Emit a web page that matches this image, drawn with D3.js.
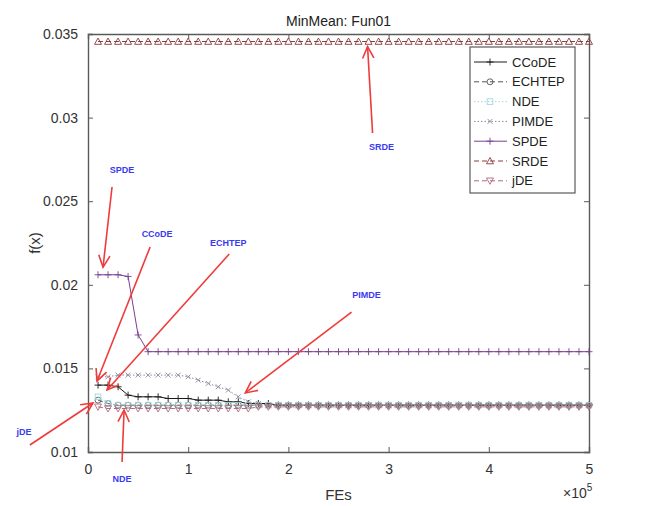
<!DOCTYPE html>
<html>
<head>
<meta charset="utf-8">
<script src="https://cdn.jsdelivr.net/npm/d3@7"></script>
<style>
  body { margin: 0; background: #fff; }
  svg { display: block; font-family: "Liberation Sans", Arial, sans-serif; }
</style>
</head>
<body>
<div id="chart"></div>
<script>
// FEs sample points (every 1e4 evaluations)
const fes = [10000, 20000, 30000, 40000, 50000, 60000, 70000, 80000, 90000, 100000,
  110000, 120000, 130000, 140000, 150000, 160000, 170000, 180000, 190000, 200000,
  210000, 220000, 230000, 240000, 250000, 260000, 270000, 280000, 290000, 300000,
  310000, 320000, 330000, 340000, 350000, 360000, 370000, 380000, 390000, 400000,
  410000, 420000, 430000, 440000, 450000, 460000, 470000, 480000, 490000, 500000];

const ccode = [0.0140, 0.0140, 0.0139, 0.0134, 0.0133, 0.0133, 0.0133, 0.0132, 0.0132, 0.0132,
  0.0131, 0.0131, 0.0131, 0.0130, 0.0130, 0.0129, 0.0129, 0.0129, 0.0128, 0.0128,
  0.0128, 0.0128, 0.0128, 0.0128, 0.0128, 0.0128, 0.0128, 0.0128, 0.0128, 0.0128,
  0.0128, 0.0128, 0.0128, 0.0128, 0.0128, 0.0128, 0.0128, 0.0128, 0.0128, 0.0128,
  0.0128, 0.0128, 0.0128, 0.0128, 0.0128, 0.0128, 0.0128, 0.0128, 0.0128, 0.0128];
const echtep = [0.0131, 0.0129, 0.0128, 0.0128, 0.0128, 0.0128, 0.0128, 0.0128, 0.0128, 0.0128,
  0.0128, 0.0128, 0.0128, 0.0128, 0.0128, 0.0128, 0.0128, 0.0128, 0.0128, 0.0128,
  0.0128, 0.0128, 0.0128, 0.0128, 0.0128, 0.0128, 0.0128, 0.0128, 0.0128, 0.0128,
  0.0128, 0.0128, 0.0128, 0.0128, 0.0128, 0.0128, 0.0128, 0.0128, 0.0128, 0.0128,
  0.0128, 0.0128, 0.0128, 0.0128, 0.0128, 0.0128, 0.0128, 0.0128, 0.0128, 0.0128];
const nde = [0.0133, 0.0129, 0.0128, 0.0128, 0.0128, 0.0128, 0.0128, 0.0128, 0.0128, 0.0128,
  0.0128, 0.0128, 0.0128, 0.0128, 0.0128, 0.0128, 0.0128, 0.0128, 0.0128, 0.0128,
  0.0128, 0.0128, 0.0128, 0.0128, 0.0128, 0.0128, 0.0128, 0.0128, 0.0128, 0.0128,
  0.0128, 0.0128, 0.0128, 0.0128, 0.0128, 0.0128, 0.0128, 0.0128, 0.0128, 0.0128,
  0.0128, 0.0128, 0.0128, 0.0128, 0.0128, 0.0128, 0.0128, 0.0128, 0.0128, 0.0128];
const pimde = [0.0145, 0.0145, 0.0146, 0.0146, 0.0146, 0.0146, 0.0146, 0.0146, 0.0146, 0.0145,
  0.0143, 0.0141, 0.0139, 0.0137, 0.0133, 0.0130, 0.0129, 0.0128, 0.0128, 0.0128,
  0.0128, 0.0128, 0.0128, 0.0128, 0.0128, 0.0128, 0.0128, 0.0128, 0.0128, 0.0128,
  0.0128, 0.0128, 0.0128, 0.0128, 0.0128, 0.0128, 0.0128, 0.0128, 0.0128, 0.0128,
  0.0128, 0.0128, 0.0128, 0.0128, 0.0128, 0.0128, 0.0128, 0.0128, 0.0128, 0.0128];
const spde = [0.0206, 0.0206, 0.0206, 0.0205, 0.0170, 0.0160, 0.0160, 0.0160, 0.0160, 0.0160,
  0.0160, 0.0160, 0.0160, 0.0160, 0.0160, 0.0160, 0.0160, 0.0160, 0.0160, 0.0160,
  0.0160, 0.0160, 0.0160, 0.0160, 0.0160, 0.0160, 0.0160, 0.0160, 0.0160, 0.0160,
  0.0160, 0.0160, 0.0160, 0.0160, 0.0160, 0.0160, 0.0160, 0.0160, 0.0160, 0.0160,
  0.0160, 0.0160, 0.0160, 0.0160, 0.0160, 0.0160, 0.0160, 0.0160, 0.0160, 0.0160];
const srde = [0.03455, 0.03455, 0.03455, 0.03455, 0.03455, 0.03455, 0.03455, 0.03455, 0.03455, 0.03455,
  0.03455, 0.03455, 0.03455, 0.03455, 0.03455, 0.03455, 0.03455, 0.03455, 0.03455, 0.03455,
  0.03455, 0.03455, 0.03455, 0.03455, 0.03455, 0.03455, 0.03455, 0.03455, 0.03455, 0.03455,
  0.03455, 0.03455, 0.03455, 0.03455, 0.03455, 0.03455, 0.03455, 0.03455, 0.03455, 0.03455,
  0.03455, 0.03455, 0.03455, 0.03455, 0.03455, 0.03455, 0.03455, 0.03455, 0.03455, 0.03455];
const jde = [0.0127, 0.0126, 0.0126, 0.0126, 0.0126, 0.0126, 0.0126, 0.0126, 0.0126, 0.0126,
  0.0126, 0.0126, 0.0126, 0.0126, 0.0126, 0.0126, 0.0127, 0.0127, 0.0127, 0.0127,
  0.0127, 0.0127, 0.0127, 0.0127, 0.0127, 0.0127, 0.0127, 0.0127, 0.0127, 0.0127,
  0.0127, 0.0127, 0.0127, 0.0127, 0.0127, 0.0127, 0.0127, 0.0127, 0.0127, 0.0127,
  0.0127, 0.0127, 0.0127, 0.0127, 0.0127, 0.0127, 0.0127, 0.0127, 0.0127, 0.0127];

const xTicks = [0, 100000, 200000, 300000, 400000, 500000];
const yTicks = [0.01, 0.015, 0.02, 0.025, 0.03, 0.035];

// Hand-drawn annotations: label, label anchor, arrow tail, arrow tip (data coords)
const annotations = [
  { label: 'SRDE', at: [293000, 0.02825], from: [284000, 0.02908], to: [279000, 0.03425] },
  { label: 'SPDE', at: [34000, 0.02690], from: [24000, 0.02585], to: [15000, 0.02106] },
  { label: 'CCoDE', at: [69000, 0.02305], from: [62000, 0.02226], to: [9000, 0.01425] },
  { label: 'ECHTEP', at: [140000, 0.0225], from: [141000, 0.02184], to: [19000, 0.01371] },
  { label: 'PIMDE', at: [278000, 0.0194], from: [263000, 0.01837], to: [157000, 0.01353] },
  { label: 'jDE', at: [-64000, 0.0112], from: [-58000, 0.01042], to: [5000, 0.01293] },
  { label: 'NDE', at: [34000, 0.0084], from: [34000, 0.0094], to: [36000, 0.01251] }
];

const series = [
  { name: 'CCoDE', values: ccode, color: '#1a1a1a', dash: null, marker: 'plus' },
  { name: 'ECHTEP', values: echtep, color: '#555555', dash: '5,3', marker: 'circle' },
  { name: 'NDE', values: nde, color: '#9fd8dc', dash: '1.5,2', marker: 'square' },
  { name: 'PIMDE', values: pimde, color: '#8a8a9a', dash: '1.5,2', marker: 'cross' },
  { name: 'SPDE', values: spde, color: '#7a3f8f', dash: null, marker: 'plus' },
  { name: 'SRDE', values: srde, color: '#8a3a3a', dash: '5,3', marker: 'triangle' },
  { name: 'jDE', values: jde, color: '#b06a7a', dash: '5,3', marker: 'triangleDown' }
];

const W = 645, H = 506;
const margin = { top: 34, right: 56, bottom: 54, left: 88 };
const iw = W - margin.left - margin.right;
const ih = H - margin.top - margin.bottom;

const svg = d3.select('#chart').append('svg').attr('width', W).attr('height', H);
const g = svg.append('g').attr('transform', `translate(${margin.left},${margin.top})`);

const x = d3.scaleLinear().domain([0, 500000]).range([0, iw]);
const y = d3.scaleLinear().domain([0.01, 0.035]).range([ih, 0]);

const axisColor = '#5a5a5a';
const textColor = '#333';

// Axes (MATLAB style: ticks inward, box on)
const xAxis = g.append('g').attr('transform', `translate(0,${ih})`)
  .call(d3.axisBottom(x).tickValues(xTicks).tickSize(-5).tickPadding(12).tickFormat(d => d / 100000));
const yAxis = g.append('g')
  .call(d3.axisLeft(y).tickValues(yTicks).tickSize(-5).tickPadding(10).tickFormat(d3.format('')));
const xTop = g.append('g')
  .call(d3.axisTop(x).tickValues(xTicks).tickSize(-5).tickFormat(''));
const yRight = g.append('g').attr('transform', `translate(${iw},0)`)
  .call(d3.axisRight(y).tickValues(yTicks).tickSize(-5).tickFormat(''));

[xAxis, yAxis, xTop, yRight].forEach(a => {
  a.select('.domain').attr('stroke', axisColor).attr('stroke-width', 1.4);
  a.selectAll('.tick line').attr('stroke', axisColor);
  a.selectAll('.tick text').attr('fill', textColor).attr('font-size', 14);
});

// Series lines + markers
const line = d3.line().x((d, i) => x(fes[i])).y(d => y(d));

function drawMarker(sel, type, color, size) {
  const s = size;
  if (type === 'plus') {
    sel.append('path').attr('d', `M${-s},0H${s}M0,${-s}V${s}`).attr('stroke', color).attr('fill', 'none');
  } else if (type === 'cross') {
    const k = s * 0.7;
    sel.append('path').attr('d', `M${-k},${-k}L${k},${k}M${-k},${k}L${k},${-k}`).attr('stroke', color).attr('fill', 'none');
  } else if (type === 'circle') {
    sel.append('circle').attr('r', s * 0.85).attr('stroke', color).attr('fill', 'none');
  } else if (type === 'square') {
    sel.append('rect').attr('x', -s * 0.8).attr('y', -s * 0.8).attr('width', s * 1.6).attr('height', s * 1.6)
      .attr('stroke', color).attr('fill', 'none');
  } else if (type === 'triangle') {
    sel.append('path').attr('d', `M0,${-s}L${s},${s * 0.8}L${-s},${s * 0.8}Z`).attr('stroke', color).attr('fill', 'none');
  } else if (type === 'triangleDown') {
    sel.append('path').attr('d', `M0,${s}L${s},${-s * 0.8}L${-s},${-s * 0.8}Z`).attr('stroke', color).attr('fill', 'none');
  }
}

const plot = g.append('g');
series.forEach(s => {
  plot.append('path')
    .datum(s.values)
    .attr('d', line)
    .attr('fill', 'none')
    .attr('stroke', s.color)
    .attr('stroke-width', 1)
    .attr('stroke-dasharray', s.dash);
  s.values.forEach((v, i) => {
    const m = plot.append('g').attr('transform', `translate(${x(fes[i])},${y(v)})`).attr('stroke-width', 0.9);
    drawMarker(m, s.marker, s.color, 3.5);
  });
});

// Title and axis labels
svg.append('text').attr('x', margin.left + iw / 2).attr('y', 26).attr('text-anchor', 'middle')
  .attr('font-size', 14).attr('fill', '#222').text('MinMean: Fun01');
svg.append('text').attr('x', margin.left + iw / 2).attr('y', 500).attr('text-anchor', 'middle')
  .attr('font-size', 15).attr('fill', textColor).text('FEs');
svg.append('text').attr('transform', `translate(40,${margin.top + ih / 2}) rotate(-90)`)
  .attr('text-anchor', 'middle').attr('font-size', 15).attr('fill', textColor).text('f(x)');
const expo = svg.append('text').attr('x', margin.left + iw - 26).attr('y', 498)
  .attr('font-size', 14).attr('fill', textColor);
expo.append('tspan').text('×10');
expo.append('tspan').attr('dy', -7).attr('font-size', 10).text('5');

// Legend
const lg = g.append('g').attr('transform', `translate(${iw - 119},13)`);
lg.append('rect').attr('width', 105).attr('height', 146).attr('fill', '#fff')
  .attr('stroke', axisColor).attr('stroke-width', 1.2);
series.forEach((s, i) => {
  const row = lg.append('g').attr('transform', `translate(0,${15 + i * 19.8})`);
  row.append('line').attr('x1', 4).attr('x2', 37).attr('stroke', s.color).attr('stroke-dasharray', s.dash);
  const m = row.append('g').attr('transform', 'translate(20,0)').attr('stroke-width', 0.9);
  drawMarker(m, s.marker, s.color, 3.5);
  row.append('text').attr('x', 42).attr('dy', '0.35em').attr('font-size', 13).attr('fill', '#222').text(s.name);
});

// Annotations: red arrows with blue labels
const ann = g.append('g');
annotations.forEach(a => {
  const x1 = x(a.from[0]), y1 = y(a.from[1]);
  const x2 = x(a.to[0]), y2 = y(a.to[1]);
  ann.append('line').attr('x1', x1).attr('y1', y1).attr('x2', x2).attr('y2', y2)
    .attr('stroke', '#ef3b3b').attr('stroke-width', 1.6);
  const ang = Math.atan2(y2 - y1, x2 - x1);
  const hl = 13, ha = 0.45;
  const p1 = [x2 - hl * Math.cos(ang - ha), y2 - hl * Math.sin(ang - ha)];
  const p2 = [x2 - hl * Math.cos(ang + ha), y2 - hl * Math.sin(ang + ha)];
  ann.append('path').attr('d', `M${p1[0]},${p1[1]}L${x2},${y2}L${p2[0]},${p2[1]}`)
    .attr('fill', 'none').attr('stroke', '#ef3b3b').attr('stroke-width', 1.6);
  ann.append('text').attr('x', x(a.at[0])).attr('y', y(a.at[1])).attr('text-anchor', 'middle')
    .attr('dy', '0.35em').attr('font-size', 9).attr('font-weight', 'bold').attr('fill', '#3a3af0').text(a.label);
});
</script>
</body>
</html>
